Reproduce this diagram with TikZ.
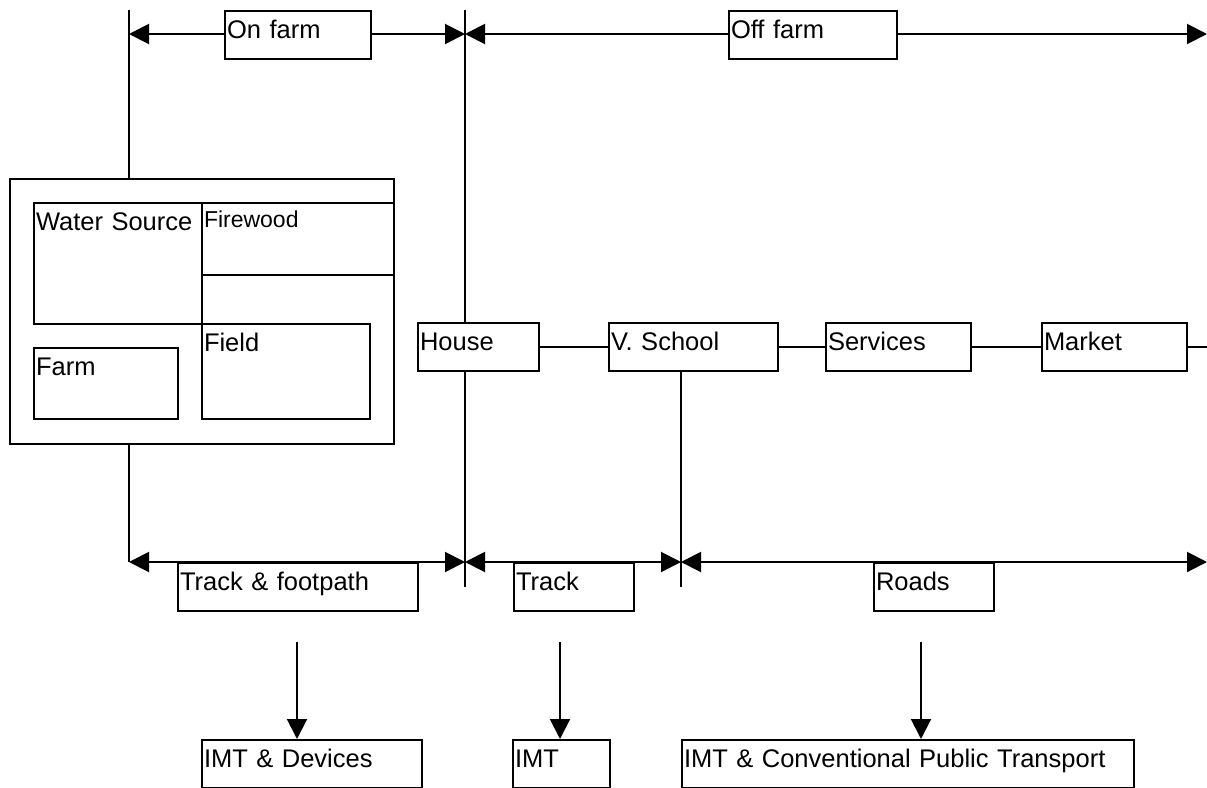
\documentclass[tikz,border=0pt]{standalone}
\usepackage{fontspec}
\setmainfont{Liberation Sans}
\usetikzlibrary{arrows.meta}

\begin{document}
\begin{tikzpicture}[x=0.5pt,y=-0.5pt,line width=1pt,
    box/.style 2 args={draw,fill=white,anchor=north west,inner xsep=1pt,inner ysep=0pt,align=left,
        text width={#1*0.5pt-2pt},text height=13.5pt,text depth={#2*0.5pt-13.5pt},
        font=\fontsize{12.75pt}{15pt}\selectfont},
    twoway/.style={{Triangle[length=10pt,width=10pt]}-{Triangle[length=10pt,width=10pt]}},
    oneway/.style={-{Triangle[length=10pt,width=10pt]}}]
        \useasboundingbox (0,0) rectangle (1207,788);
        %% Span ends
        \coordinate (farmtop) at (129,10);
        \coordinate (gatetop) at (465,10);
        \coordinate (gatebot) at (465,587);
        \coordinate (onL) at (129,34);
        \coordinate (onR) at (465,34);
        \coordinate (offR) at (1207,34);
        \coordinate (tfL) at (129,562);
        \coordinate (tfR) at (465,562);
        \coordinate (trR) at (681,562);
        \coordinate (rdR) at (1207,562);
        %% Spans
        \draw (gatetop) -- (gatebot);
        \draw[twoway] (onL) -- (onR);
        \draw[twoway] (onR) -- (offR);
        \draw[twoway] (tfL) -- (tfR);
        \draw[twoway] (tfR) -- (trR);
        \draw[twoway] (trR) -- (rdR);
        %% Span labels
        \node[box={146}{48}] (onfarm) at (224,10) {On farm};
        \node[box={168}{48}] (offfarm) at (728,10) {Off farm};
        \node[box={240}{48}] (footpath) at (177,562) {Track \& footpath};
        \node[box={120}{48}] (track) at (513,562) {Track};
        \node[box={120}{48}] (roads) at (873,562) {Roads};
        %% Farm
        \node[box={384}{265}] (outer) at (9,178) {};
        \node[box={168}{121}] (water) at (33,202) {Water Source};
        \node[box={192}{72},text height=12pt,text depth=24pt,
            font=\fontsize{11.5pt}{13pt}\selectfont] (firewood) at (201,202) {Firewood};
        \node[box={168}{95}] (field) at (201,323) {Field};
        \node[box={144}{71}] (farm) at (33,347) {Farm};
        \draw (farmtop) -- (farmtop |- outer.north);
        \draw (outer.south -| tfL) -- (tfL);
        %% Destinations
        \node[box={121}{48}] (house) at (417,322) {House};
        \node[box={169}{48}] (school) at (608,322) {V. School};
        \node[box={145}{48}] (services) at (825,322) {Services};
        \node[box={145}{48}] (market) at (1041,322) {Market};
        \draw (house.east) -- (school.west);
        \draw (school.east) -- (services.west);
        \draw (services.east) -- (market.west);
        \draw (market.east) -- (market.east -| offR);
        \draw (school.south -| trR) -- (trR |- gatebot);
        %% Transport
        \node[box={220}{48}] (devices) at (201,739) {IMT \& Devices};
        \node[box={97}{48}] (imt) at (512,739) {IMT};
        \node[box={452}{48}] (public) at (681,739) {IMT \& Conventional Public Transport};
        \coordinate (d1) at (297,642);
        \coordinate (d2) at (560,642);
        \coordinate (d3) at (921,642);
        \draw[oneway] (d1) -- (d1 |- devices.north);
        \draw[oneway] (d2) -- (d2 |- imt.north);
        \draw[oneway] (d3) -- (d3 |- public.north);
    \end{tikzpicture}
\end{document}
